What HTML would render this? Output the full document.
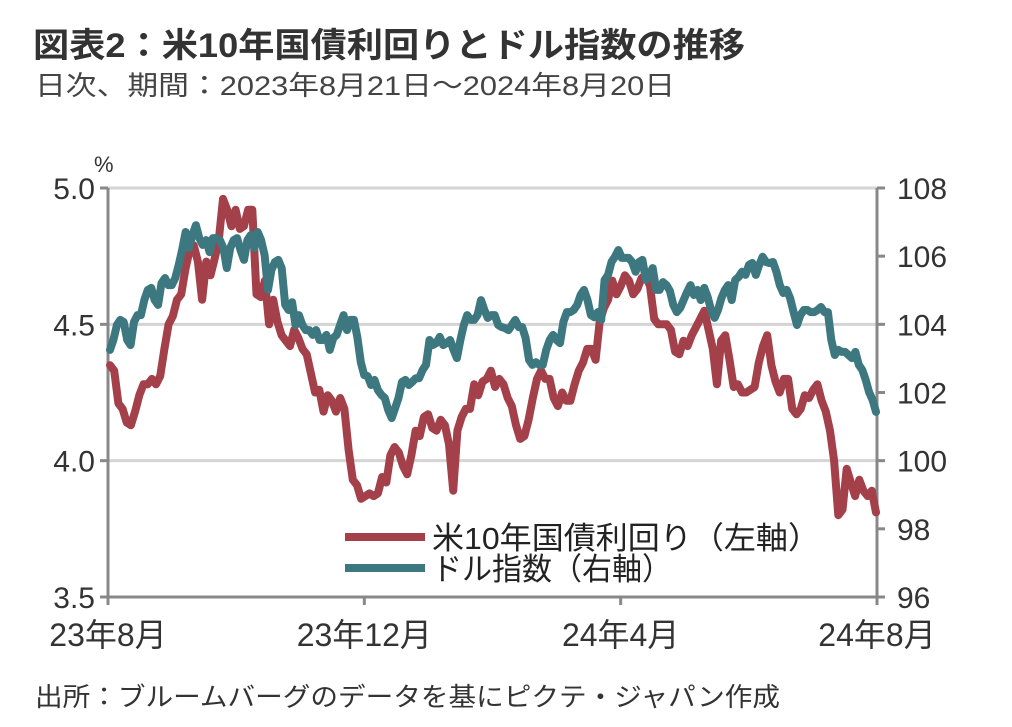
<!DOCTYPE html>
<html><head><meta charset="utf-8">
<style>
body{margin:0;background:#fff;width:1012px;height:722px;overflow:hidden;font-family:"Liberation Sans","Noto Sans CJK JP",sans-serif;}
</style></head>
<body>
<svg width="1012" height="722" xmlns="http://www.w3.org/2000/svg" style="font-family:'Liberation Sans','Noto Sans CJK JP',sans-serif">
<text x="33" y="57" font-size="34" font-weight="bold" fill="#333" textLength="712" lengthAdjust="spacingAndGlyphs">図表2：米10年国債利回りとドル指数の推移</text>
<text x="35" y="95" font-size="27" fill="#444" textLength="640" lengthAdjust="spacingAndGlyphs">日次、期間：2023年8月21日～2024年8月20日</text>
<text x="94" y="172" font-size="22" fill="#333">%</text>
<g id="grid"></g>
<g id="axes"></g>
<g id="series"></g>
<g>
<line x1="345" y1="537" x2="425" y2="537" stroke="#A3404A" stroke-width="8"/>
<text x="432" y="549" font-size="31" fill="#222" textLength="388" lengthAdjust="spacingAndGlyphs">米10年国債利回り（左軸）</text>
<line x1="345" y1="568" x2="425" y2="568" stroke="#3D7880" stroke-width="8"/>
<text x="432" y="580" font-size="31" fill="#222" textLength="240" lengthAdjust="spacingAndGlyphs">ドル指数（右軸）</text>
</g>
<text x="35" y="706" font-size="26" fill="#333" textLength="745" lengthAdjust="spacingAndGlyphs">出所：ブルームバーグのデータを基にピクテ・ジャパン作成</text>
</svg>
<script>
const leftTicks=[5.0,4.5,4.0,3.5];
const leftTickLabels=["5.0","4.5","4.0","3.5"];
const rightTicks=[108,106,104,102,100,98,96];
const xTickPos=[0,4,8,12];
const xTickLabels=["23年8月","23年12月","24年4月","24年8月"];
const yieldValues=[4.35,4.33,4.21,4.19,4.14,4.13,4.18,4.24,4.28,4.28,4.30,4.28,4.31,4.41,4.50,4.53,4.59,4.61,4.70,4.77,4.79,4.73,4.59,4.73,4.68,4.74,4.81,4.96,4.92,4.86,4.92,4.85,4.86,4.92,4.92,4.61,4.60,4.66,4.50,4.59,4.51,4.46,4.44,4.42,4.48,4.45,4.41,4.39,4.32,4.25,4.26,4.18,4.24,4.22,4.18,4.23,4.19,4.04,3.93,3.91,3.86,3.87,3.88,3.87,3.88,3.94,3.92,4.02,4.05,4.03,3.98,3.95,4.02,4.11,4.09,4.16,4.17,4.12,4.11,4.15,4.13,4.06,3.89,4.11,4.16,4.19,4.19,4.28,4.24,4.29,4.30,4.33,4.27,4.30,4.28,4.23,4.20,4.13,4.08,4.09,4.15,4.23,4.30,4.33,4.30,4.30,4.23,4.20,4.25,4.22,4.22,4.28,4.33,4.36,4.41,4.41,4.37,4.51,4.56,4.59,4.66,4.61,4.64,4.68,4.66,4.61,4.63,4.67,4.68,4.64,4.52,4.50,4.50,4.50,4.48,4.40,4.39,4.44,4.42,4.46,4.49,4.52,4.55,4.48,4.41,4.28,4.44,4.46,4.37,4.27,4.28,4.25,4.25,4.26,4.27,4.36,4.42,4.46,4.35,4.29,4.25,4.30,4.30,4.19,4.17,4.19,4.24,4.23,4.26,4.28,4.22,4.18,4.11,4.00,3.80,3.82,3.97,3.92,3.87,3.93,3.89,3.87,3.89,3.81];
const dollarValues=[103.25,103.54,103.98,104.13,104.07,103.54,103.39,104.07,104.27,104.27,104.71,105.01,105.07,104.71,104.57,105.21,105.36,105.15,105.15,105.36,105.74,106.18,106.71,106.24,106.62,106.91,106.53,106.33,106.47,106.12,106.53,106.53,106.47,106.24,105.65,106.24,106.47,106.53,106.18,105.89,106.47,106.62,106.24,106.71,106.47,106.03,105.01,105.59,105.83,105.89,105.65,104.57,104.42,104.65,103.98,104.27,103.98,103.83,103.83,103.69,103.83,103.54,103.54,103.69,103.25,103.60,103.69,103.98,104.27,103.83,104.13,104.13,103.63,102.89,102.51,102.48,102.22,102.37,102.07,101.93,101.84,101.49,101.25,101.54,101.84,102.31,102.37,102.22,102.31,102.42,102.42,102.66,102.81,103.54,103.39,103.45,103.63,103.39,103.45,103.54,103.25,103.01,103.54,103.98,104.27,104.13,104.13,104.27,104.71,104.42,104.19,104.27,104.27,103.98,103.92,103.89,103.83,103.98,104.13,103.92,103.92,103.60,102.95,102.81,102.89,102.81,102.81,103.25,103.54,103.69,103.54,103.45,104.07,104.36,104.36,104.42,104.57,104.86,105.01,104.71,104.27,104.21,104.36,104.13,105.30,105.45,105.83,105.98,106.18,105.95,105.95,105.95,105.83,105.54,105.83,105.89,105.30,105.45,105.65,105.01,105.01,105.24,105.15,104.98,104.57,104.36,104.48,104.71,104.95,105.15,104.86,105.01,104.71,105.07,104.80,104.42,104.19,104.42,104.77,105.01,105.15,104.71,105.30,105.39,105.54,105.45,105.74,105.80,105.45,105.74,105.98,105.83,105.80,105.83,105.54,105.15,104.92,105.01,104.77,104.36,103.98,104.27,104.42,104.42,104.36,104.36,104.42,104.51,104.36,104.36,103.54,103.10,103.25,103.19,103.19,103.10,103.01,103.19,102.81,102.66,102.37,102.01,101.78,101.43];
const NS="http://www.w3.org/2000/svg";
const X0=108,X1=877,Y0=188,Y1=597;
const yL=v=>Y0+(5.0-v)/1.5*(Y1-Y0);
const yR=v=>Y0+(108-v)/12*(Y1-Y0);
const xM=m=>X0+m/12*(X1-X0);
const xIdx=(i,n)=>X0+2+i/(n-1)*(X1-X0-3);
function mk(tag,attrs,parent){const e=document.createElementNS(NS,tag);for(const k in attrs)e.setAttribute(k,attrs[k]);parent.appendChild(e);return e;}
const grid=document.getElementById('grid'),axes=document.getElementById('axes'),ser=document.getElementById('series');
leftTicks.forEach((v,i)=>{
  if(v>3.5){const g=mk('line',{x1:X0,x2:X1,y1:yL(v),y2:yL(v),stroke:'#d4d4d4','stroke-width':3},grid);
  
  }
  const t=mk('line',{x1:X0-8,x2:X0,y1:yL(v),y2:yL(v),stroke:'#888','stroke-width':3},axes);
  
  
  const l=mk('text',{x:X0-13,y:yL(v)+11,'font-size':30,'text-anchor':'end',fill:'#333'},axes);
  l.textContent=leftTickLabels[i];
  
  
});
rightTicks.forEach(v=>{
  const t=mk('line',{x1:X1,x2:X1+8,y1:yR(v),y2:yR(v),stroke:'#888','stroke-width':3},axes);
  
  
  const l=mk('text',{x:X1+20,y:yR(v)+11,'font-size':30,fill:'#333'},axes);
  l.textContent=String(v);
  
  
});
const la=mk('line',{x1:X0,x2:X0,y1:Y0,y2:Y1,stroke:'#888','stroke-width':3},axes);


const ra=mk('line',{x1:X1,x2:X1,y1:Y0,y2:Y1,stroke:'#888','stroke-width':3},axes);


const xa=mk('line',{x1:X0,x2:X1,y1:Y1,y2:Y1,stroke:'#888','stroke-width':3},axes);


xTickPos.forEach((m,i)=>{
  const t=mk('line',{x1:xM(m),x2:xM(m),y1:Y1,y2:Y1+8,stroke:'#888','stroke-width':3},axes);
  
  
  const l=mk('text',{x:xM(m),y:Y1+49,'font-size':32,'text-anchor':'middle',fill:'#333'},axes);
  l.textContent=xTickLabels[i];
  
  
});
function line(vals,fy,color,name){
  const n=vals.length;
  const d=vals.map((v,i)=>(i?'L':'M')+xIdx(i,n).toFixed(1)+' '+fy(v).toFixed(1)).join(' ');
  const p=mk('path',{d:d,fill:'none',stroke:color,'stroke-width':8,'stroke-linejoin':'round','stroke-linecap':'round'},ser);
  
  
}
line(yieldValues,yL,'#A3404A','yield-line');
line(dollarValues,yR,'#3D7880','dollar-index-line');
</script>
</body></html>
